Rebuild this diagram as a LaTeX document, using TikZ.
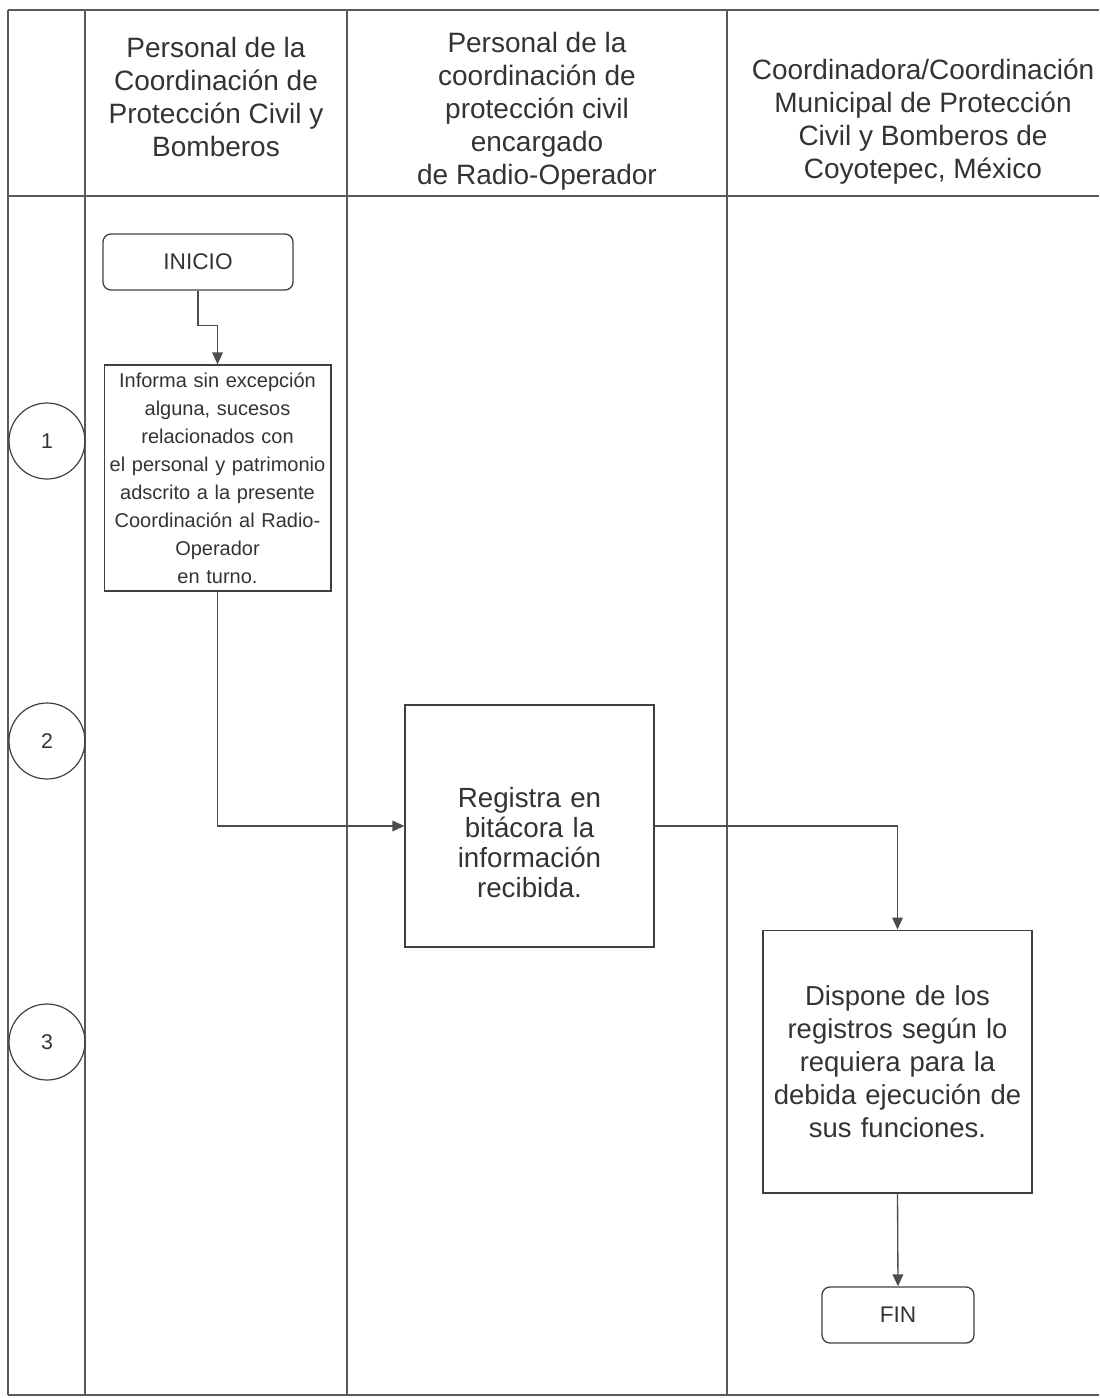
\documentclass[tikz,border=0pt]{standalone}
\usepackage{fontspec}
\setmainfont{Liberation Sans}
\usetikzlibrary{arrows.meta, positioning}

\begin{document}
\begin{tikzpicture}[
  x=0.75pt, y=-0.75pt,
  lane/.style={draw=black!65, line width=1pt},
  header/.style={align=center, text=black!80, font=\fontsize{21}{24.75}\selectfont},
  stepnum/.style={circle, draw=black!75, line width=0.9pt, minimum size=57pt, text=black!80, font=\fontsize{16}{18}\selectfont},
  terminal/.style={rectangle, rounded corners=6pt, draw=black!75, line width=1pt, text=black!80, font=\fontsize{17}{19}\selectfont},
  process/.style={rectangle, draw=black!75, line width=1pt, align=center, text=black!80},
  flow/.style={-{Triangle[length=9pt,width=8pt]}, line width=1pt, black!70}
]
\useasboundingbox (0,0) rectangle (1099,1398);

% Frame and lanes
\draw[lane] (8,10) -- (1099,10);
\draw[lane] (8,196) -- (1099,196);
\draw[lane] (8,1395) -- (1099,1395);
\draw[lane] (8,10) -- (8,1395);
\draw[lane] (85,10) -- (85,1395);
\draw[lane] (347,10) -- (347,1395);
\draw[lane] (727,10) -- (727,1395);

% Headers
\node[header] (h1) at (216,97) {Personal de la\\Coordinación de\\Protección Civil y\\Bomberos};
\node[header] (h2) at (537,111) {Personal de la\\coordinación de\\protección civil\\encargado\\de Radio-Operador};
\node[header] (h3) at (923,122) {Coordinadora/Coordinación\\Municipal de Protección\\Civil y Bomberos de\\Coyotepec, México};

% Steps
\node[stepnum] (s1) at (47,441) {1};
\node[stepnum] (s2) at (47,741) {2};
\node[stepnum] (s3) at (47,1042) {3};

% Activities
\node[terminal, minimum width=142.5pt, minimum height=42pt] (inicio) at (198,262) {INICIO};
\node[process, minimum width=170pt, minimum height=169.5pt, text width=168pt, inner sep=1pt,
  font=\fontsize{15}{21}\selectfont] (informa) at (217.5,478)
  {Informa sin excepción\\alguna, sucesos\\relacionados con\\el personal y patrimonio\\adscrito a la presente\\Coordinación al Radio-\\Operador\\en turno.};
\node[process, minimum width=185pt, minimum height=181.5pt, text width=180pt,
  font=\fontsize{20.8}{22.5}\selectfont] (registra) at (529.5,826)
  {\rule{0pt}{40pt}Registra en\\bitácora la\\información\\recibida.};
\node[process, minimum width=199pt, minimum height=197pt, text width=195pt,
  font=\fontsize{20.6}{24.75}\selectfont] (dispone) at (897.5,1061.5)
  {Dispone de los\\registros según lo\\requiera para la\\debida ejecución de\\sus funciones.};
\node[terminal, minimum width=114pt, minimum height=42pt] (fin) at (898,1315) {FIN};

% Connectors
\draw[flow] (inicio.south) -- ++(0,35) -| (informa.north);
\draw[flow] (informa.south) |- (registra.west);
\draw[flow] (registra.east) -| (dispone.north);
\draw[flow] (dispone.south) -- (fin.north);

\end{tikzpicture}
\end{document}
